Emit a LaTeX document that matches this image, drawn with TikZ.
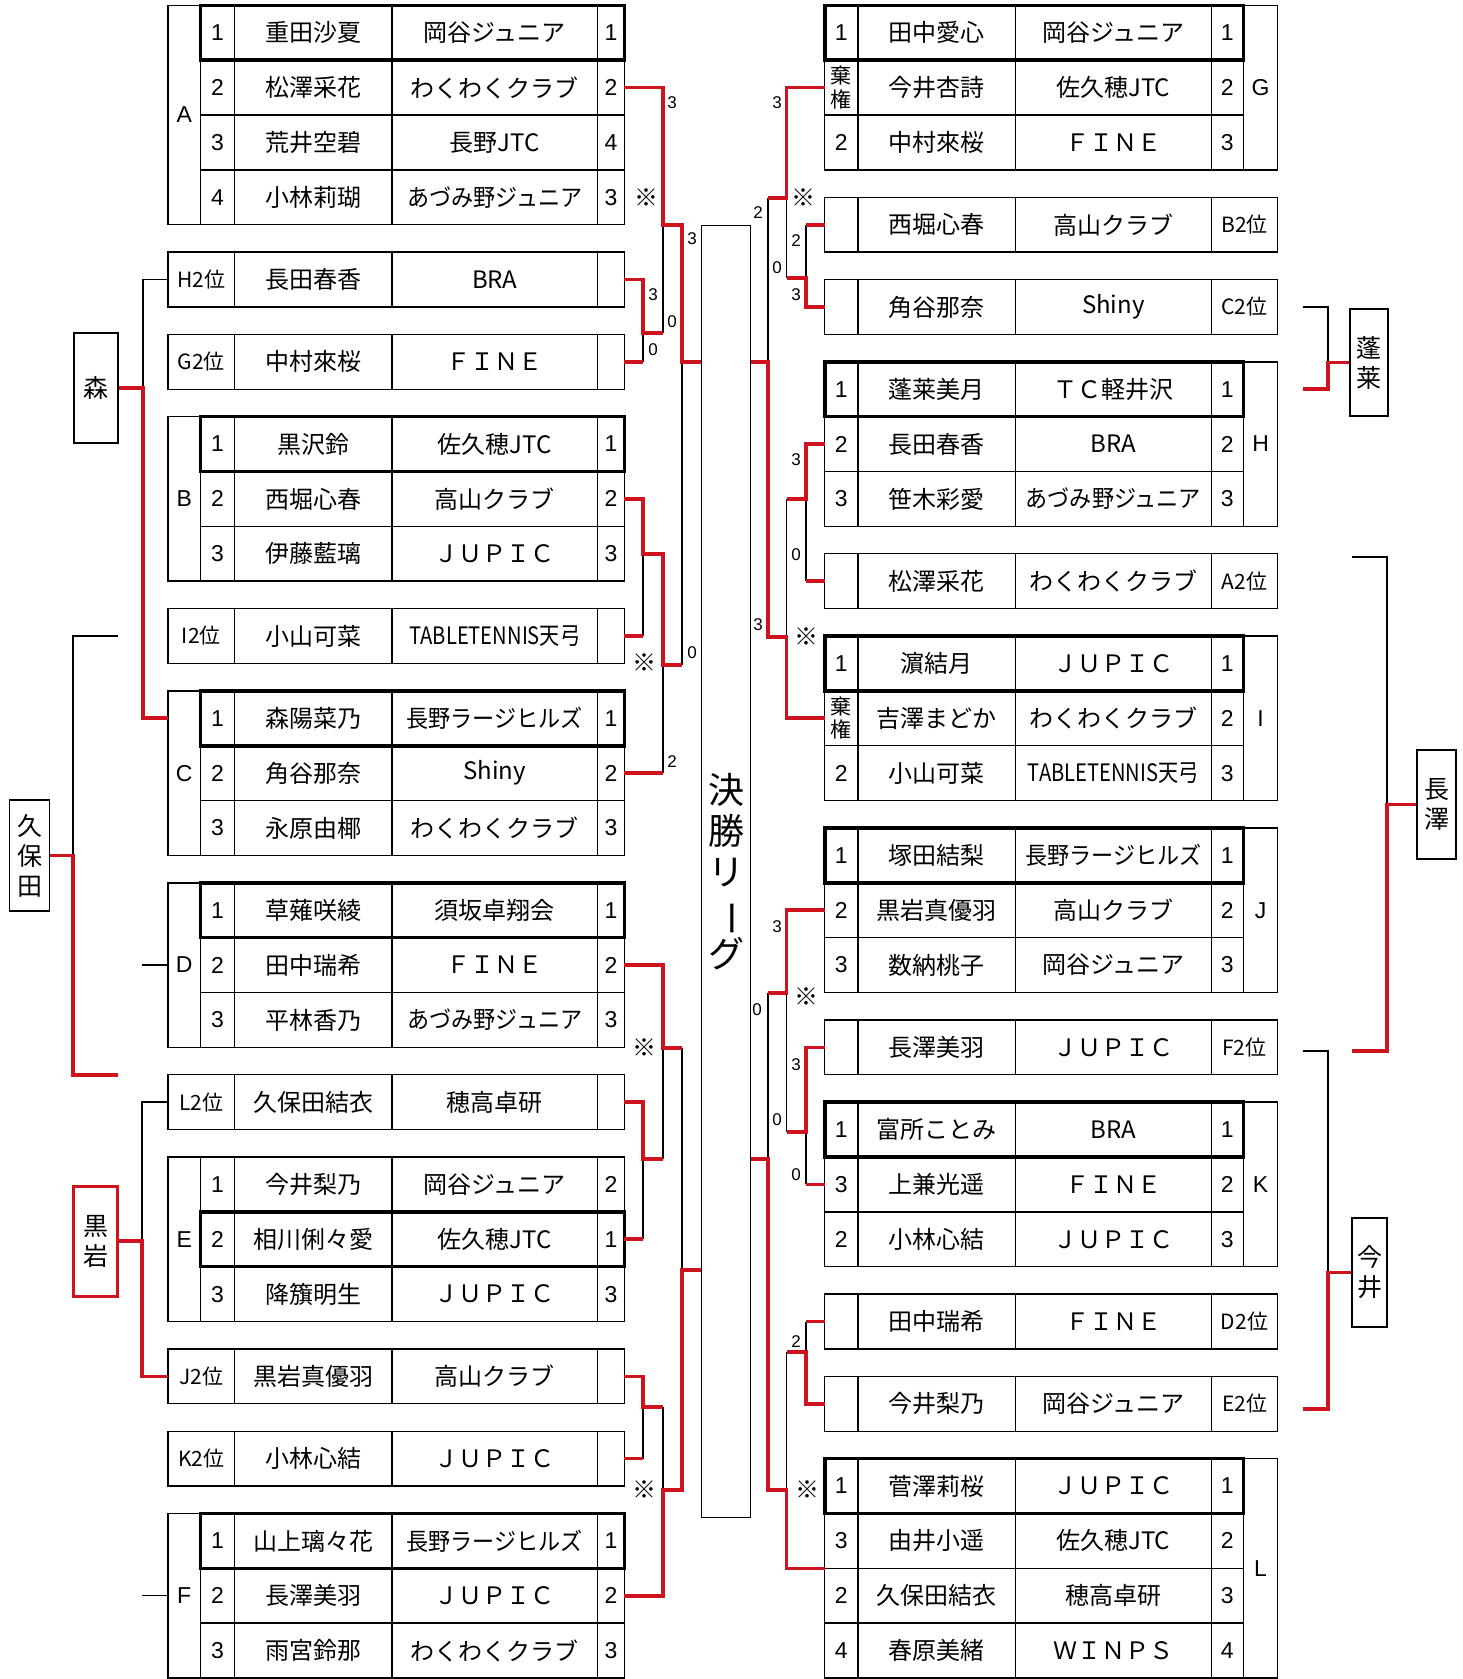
\documentclass[tikz,border=0pt]{standalone}
\usepackage{fontspec}
\usepackage{graphicx}
\setmainfont{Liberation Sans}
\newfontfamily\jp{Noto Sans CJK JP}
\definecolor{bracketred}{RGB}{206,18,30}
\newcommand\narrow[1]{\scalebox{0.92}[1]{#1}}
\newcommand\tenkyu{\scalebox{0.84}[1]{TABLETENNIS天弓}}
\newcommand\kiken{{\jp\fontsize{21}{22}\selectfont\shortstack{棄\\[1pt]権}}}

\tikzset{
  cell/.style={draw, line width=1.4pt, inner sep=0pt, outer sep=0pt, anchor=north west,
    minimum height=54.84pt, align=center},
  numcell/.style={cell, font=\fontsize{23}{25}\selectfont},
  namecell/.style={cell, font=\jp\fontsize{24}{26}\selectfont},
  poscell/.style={cell, font=\jp\fontsize{21}{23}\selectfont},
  toprow/.style={line width=3.6pt},
  win/.style={draw=bracketred, line width=3.6pt},
  lose/.style={draw=black, line width=1.4pt},
  score/.style={font=\fontsize{17}{17}\selectfont, inner sep=0pt},
  kome/.style={font=\jp\fontsize{24}{24}\selectfont, inner sep=0pt},
  sidebox/.style={draw, line width=1.4pt, inner sep=0pt, minimum width=44pt,
    minimum height=110pt, align=center, font=\jp\fontsize{25}{30}\selectfont},
}

% left table row: id, unit, no, name, club, rank
\newcommand\lrow[6]{%
  \node[numcell, minimum width=34.2pt] (#1n) at (200.3,{5.35+27.42*(#2)}) {#3};
  \node[namecell, minimum width=157.5pt] (#1m) at (234.5,{5.35+27.42*(#2)}) {#4};
  \node[namecell, minimum width=205.6pt] (#1c) at (392,{5.35+27.42*(#2)}) {#5};
  \node[numcell, minimum width=26.8pt] (#1r) at (597.6,{5.35+27.42*(#2)}) {#6};
}
% right table row: id, unit, no, name, club, rank
\newcommand\rrow[6]{%
  \node[numcell, minimum width=33.2pt] (#1n) at (824.7,{5.35+27.42*(#2)}) {#3};
  \node[namecell, minimum width=157.4pt] (#1m) at (857.9,{5.35+27.42*(#2)}) {#4};
  \node[namecell, minimum width=196pt] (#1c) at (1015.3,{5.35+27.42*(#2)}) {#5};
  \node[numcell, minimum width=32.1pt] (#1r) at (1211.3,{5.35+27.42*(#2)}) {#6};
}
% second places: id, unit, place, name, club
\newcommand\lsingle[5]{%
  \node[poscell, minimum width=66.4pt] (#1l) at (168.1,{5.35+27.42*(#2)}) {#3};
  \node[namecell, minimum width=157.5pt] (#1m) at (234.5,{5.35+27.42*(#2)}) {#4};
  \node[namecell, minimum width=205.6pt] (#1c) at (392,{5.35+27.42*(#2)}) {#5};
  \node[cell, minimum width=26.8pt] (#1r) at (597.6,{5.35+27.42*(#2)}) {};
}
% id, unit, name, club, place
\newcommand\rsingle[5]{%
  \node[cell, minimum width=33.2pt] (#1n) at (824.7,{5.35+27.42*(#2)}) {};
  \node[namecell, minimum width=157.4pt] (#1m) at (857.9,{5.35+27.42*(#2)}) {#3};
  \node[namecell, minimum width=196pt] (#1c) at (1015.3,{5.35+27.42*(#2)}) {#4};
  \node[poscell, minimum width=66.4pt] (#1l) at (1211.3,{5.35+27.42*(#2)}) {#5};
}

\begin{document}
\begin{tikzpicture}[x=1pt, y=-1pt]
\useasboundingbox (0,0) rectangle (1463,1679);

% left groups
\node[numcell, minimum width=32.2pt, minimum height=219.36pt] (Alab) at (168.1,5.35) {A};
\foreach \nr/\who/\team/\rk [count=\i] in {1/重田沙夏/岡谷ジュニア/1, 2/松澤采花/わくわくクラブ/2,
    3/荒井空碧/長野JTC/4, 4/小林莉瑚/\narrow{あづみ野ジュニア}/3}
  {\lrow{A\i}{2*\i-2}{\nr}{\who}{\team}{\rk}}
\lsingle{sH}{9}{H2位}{長田春香}{BRA}
\lsingle{sG}{12}{G2位}{中村來桜}{ＦＩＮＥ}
\node[numcell, minimum width=32.2pt, minimum height=164.52pt] (Blab) at (168.1,{5.35+27.42*15}) {B};
\foreach \nr/\who/\team/\rk [count=\i] in {1/黒沢鈴/佐久穂JTC/1, 2/西堀心春/高山クラブ/2, 3/伊藤藍璃/ＪＵＰＩＣ/3}
  {\lrow{B\i}{13+2*\i}{\nr}{\who}{\team}{\rk}}
\lsingle{sI}{22}{I2位}{小山可菜}{\tenkyu}
\node[numcell, minimum width=32.2pt, minimum height=164.52pt] (Clab) at (168.1,{5.35+27.42*25}) {C};
\foreach \nr/\who/\team/\rk [count=\i] in {1/森陽菜乃/\narrow{長野ラージヒルズ}/1, 2/角谷那奈/Shiny/2, 3/永原由椰/わくわくクラブ/3}
  {\lrow{C\i}{23+2*\i}{\nr}{\who}{\team}{\rk}}
\node[numcell, minimum width=32.2pt, minimum height=164.52pt] (Dlab) at (168.1,{5.35+27.42*32}) {D};
\foreach \nr/\who/\team/\rk [count=\i] in {1/草薙咲綾/須坂卓翔会/1, 2/田中瑞希/ＦＩＮＥ/2, 3/平林香乃/\narrow{あづみ野ジュニア}/3}
  {\lrow{D\i}{30+2*\i}{\nr}{\who}{\team}{\rk}}
\lsingle{sL}{39}{L2位}{久保田結衣}{穂高卓研}
\node[numcell, minimum width=32.2pt, minimum height=164.52pt] (Elab) at (168.1,{5.35+27.42*42}) {E};
\foreach \nr/\who/\team/\rk [count=\i] in {1/今井梨乃/岡谷ジュニア/2, 2/相川俐々愛/佐久穂JTC/1, 3/降籏明生/ＪＵＰＩＣ/3}
  {\lrow{E\i}{40+2*\i}{\nr}{\who}{\team}{\rk}}
\lsingle{sJ}{49}{J2位}{黒岩真優羽}{高山クラブ}
\lsingle{sK}{52}{K2位}{小林心結}{ＪＵＰＩＣ}
\node[numcell, minimum width=32.2pt, minimum height=164.52pt] (Flab) at (168.1,{5.35+27.42*55}) {F};
\foreach \nr/\who/\team/\rk [count=\i] in {1/山上璃々花/\narrow{長野ラージヒルズ}/1, 2/長澤美羽/ＪＵＰＩＣ/2, 3/雨宮鈴那/わくわくクラブ/3}
  {\lrow{F\i}{53+2*\i}{\nr}{\who}{\team}{\rk}}

% right groups
\foreach \nr/\who/\team/\rk [count=\i] in {1/田中愛心/岡谷ジュニア/1, \kiken/今井杏詩/佐久穂JTC/2, 2/中村來桜/ＦＩＮＥ/3}
  {\rrow{G\i}{2*\i-2}{\nr}{\who}{\team}{\rk}}
\node[numcell, minimum width=34.3pt, minimum height=164.52pt] (Glab) at (1243.4,5.35) {G};
\rsingle{tB}{7}{西堀心春}{高山クラブ}{B2位}
\rsingle{tC}{10}{角谷那奈}{Shiny}{C2位}
\foreach \nr/\who/\team/\rk [count=\i] in {1/蓬莱美月/ＴＣ軽井沢/1, 2/長田春香/BRA/2, 3/笹木彩愛/\narrow{あづみ野ジュニア}/3}
  {\rrow{H\i}{11+2*\i}{\nr}{\who}{\team}{\rk}}
\node[numcell, minimum width=34.3pt, minimum height=164.52pt] (Hlab) at (1243.4,{5.35+27.42*13}) {H};
\rsingle{tA}{20}{松澤采花}{わくわくクラブ}{A2位}
\foreach \nr/\who/\team/\rk [count=\i] in {1/濵結月/ＪＵＰＩＣ/1, \kiken/吉澤まどか/わくわくクラブ/2, 2/小山可菜/\tenkyu/3}
  {\rrow{I\i}{21+2*\i}{\nr}{\who}{\team}{\rk}}
\node[numcell, minimum width=34.3pt, minimum height=164.52pt] (Ilab) at (1243.4,{5.35+27.42*23}) {I};
\foreach \nr/\who/\team/\rk [count=\i] in {1/塚田結梨/\narrow{長野ラージヒルズ}/1, 2/黒岩真優羽/高山クラブ/2, 3/数納桃子/岡谷ジュニア/3}
  {\rrow{J\i}{28+2*\i}{\nr}{\who}{\team}{\rk}}
\node[numcell, minimum width=34.3pt, minimum height=164.52pt] (Jlab) at (1243.4,{5.35+27.42*30}) {J};
\rsingle{tF}{37}{長澤美羽}{ＪＵＰＩＣ}{F2位}
\foreach \nr/\who/\team/\rk [count=\i] in {1/富所ことみ/BRA/1, 3/上兼光遥/ＦＩＮＥ/2, 2/小林心結/ＪＵＰＩＣ/3}
  {\rrow{K\i}{38+2*\i}{\nr}{\who}{\team}{\rk}}
\node[numcell, minimum width=34.3pt, minimum height=164.52pt] (Klab) at (1243.4,{5.35+27.42*40}) {K};
\rsingle{tD}{47}{田中瑞希}{ＦＩＮＥ}{D2位}
\rsingle{tE}{50}{今井梨乃}{岡谷ジュニア}{E2位}
\foreach \nr/\who/\team/\rk [count=\i] in {1/菅澤莉桜/ＪＵＰＩＣ/1, 3/由井小遥/佐久穂JTC/2, 2/久保田結衣/穂高卓研/3, 4/春原美緒/ＷＩＮＰＳ/4}
  {\rrow{L\i}{51+2*\i}{\nr}{\who}{\team}{\rk}}
\node[numcell, minimum width=34.3pt, minimum height=219.36pt] (Llab) at (1243.4,{5.35+27.42*53}) {L};

% group winners
\foreach \g in {A1,B1,C1,D1,E2,F1,G1,H1,I1,J1,K1,L1}
  \draw[toprow] (\g n.north west) rectangle (\g r.south east);

% final league
\node[draw, line width=1.4pt, anchor=north west, minimum width=49pt, minimum height=1292pt,
  inner sep=0pt, align=center, font=\jp\fontsize{36}{41}\selectfont] (final) at (701,225)
  {決\\勝\\リ\\\rotatebox[origin=c]{-90}{ー}\\グ};

% side names
\node[sidebox] (mori) at (96,388) {森};
\node[sidebox, minimum width=40pt, minimum height=111pt] (kubota) at (29.5,855.5) {久\\保\\田};
\node[sidebox, draw=bracketred, line width=3pt] (kuroiwa) at (95.5,1241) {黒\\岩};
\node[sidebox, minimum width=38pt, minimum height=107pt] (horai) at (1369,362.5) {蓬\\莱};
\node[sidebox, minimum width=39pt, minimum height=109pt] (nagasawa) at (1436.5,804.5) {長\\澤};
\node[sidebox, minimum width=35pt, minimum height=109pt] (imai) at (1369.5,1272.5) {今\\井};

% junctions
\coordinate (jA) at (663,225);
\coordinate (jHG) at (643,333);
\coordinate (jTL) at (682,362);
\coordinate (jBI) at (643,554);
\coordinate (jBC) at (663,665);
\coordinate (jD) at (663,1048);
\coordinate (jLE) at (643,1159);
\coordinate (jBL) at (682,1270);
\coordinate (jJK) at (643,1407);
\coordinate (jF) at (663,1490);
\coordinate (kG) at (786.5,198);
\coordinate (kBC) at (806,278);
\coordinate (kTR) at (768,362);
\coordinate (kHA) at (806,499);
\coordinate (kI) at (786.5,637);
\coordinate (kJ) at (786.5,993);
\coordinate (kFK) at (806,1132);
\coordinate (kBR) at (768,1159);
\coordinate (kDE) at (806,1352);
\coordinate (kL) at (786.5,1490);
\coordinate (jM) at (143,388);
\coordinate (jK) at (73,855.5);
\coordinate (kuTop) at (118,636);
\coordinate (kuEnd) at (118,1075);
\coordinate (jKu) at (142,1241);
\coordinate (jH) at (1328,362.5);
\coordinate (hoC) at (1303,307);
\coordinate (hoH) at (1303,389);
\coordinate (jN) at (1387,804.5);
\coordinate (naA) at (1352,557);
\coordinate (naF) at (1352,1051);
\coordinate (jI) at (1328,1272.5);
\coordinate (imF) at (1303,1051);
\coordinate (imE) at (1303,1409);

% losing sides
\draw[lose] (jHG -| jA) -- (jA);
\draw[lose] (sGr.east -| jHG) -- (jHG);
\draw[lose] (jBC -| jTL) -- (jTL);
\draw[lose] (sIr.east -| jBI) -- (jBI);
\draw[lose] (C2r.east -| jA) -- (jBC);
\draw[lose] (jD -| jBL) -- (jBL);
\draw[lose] (jLE -| jD) -- (jD);
\draw[lose] (E2r.east -| jLE) -- (jLE);
\draw[lose] (jJK -| jF) -- (jF);
\draw[lose] (sKr.east -| jJK) -- (jJK);
\draw[lose] (kG -| kTR) -- (kTR);
\draw[lose] (kBC -| kG) -- (kG);
\draw[lose] (tBn.west -| kBC) -- (kBC);
\draw[lose] (kHA -| kI) -- (kI);
\draw[lose] (tAn.west -| kHA) -- (kHA);
\draw[lose] (kJ -| kBR) -- (kBR);
\draw[lose] (kFK -| kJ) -- (kJ);
\draw[lose] (K2n.west -| kFK) -- (kFK);
\draw[lose] (kDE -| kL) -- (kL);
\draw[lose] (tDn.west -| kDE) -- (kDE);
\draw[lose] (jM) |- (sHl.west);
\draw[lose] (jK) |- (kuTop);
\draw[lose] (jKu) |- (sLl.west);
\draw[lose] (Dlab.west) -- (Dlab.west -| jKu);
\draw[lose] (Flab.west) -- (Flab.west -| jKu);
\draw[lose] (hoC) -| (jH);
\draw[lose] (naA) -| (jN);
\draw[lose] (imF) -| (jI);

% winning sides
\draw[win] (A2r.east) -| (jA) -| (jTL) -- (jTL -| final.west);
\draw[win] (sHr.east) -| (jHG) -- (jHG -| jA);
\draw[win] (sGr.east) -- (sGr.east -| jHG);
\draw[win] (B2r.east) -| (jBI) -- (jBI -| jA) -- (jBC) -- (jBC -| jTL);
\draw[win] (sIr.east) -- (sIr.east -| jBI);
\draw[win] (C2r.east) -- (C2r.east -| jA);
\draw[win] (D2r.east) -| (jD) -- (jD -| jBL);
\draw[win] (sLr.east) -| (jLE) -- (jLE -| jD);
\draw[win] (E2r.east) -- (E2r.east -| jLE);
\draw[win] (F2r.east) -| (jF) -| (jBL) -- (jBL -| final.west);
\draw[win] (sJr.east) -| (jJK) -- (jJK -| jF);
\draw[win] (sKr.east) -- (sKr.east -| jJK);
\draw[win] (G2n.west) -| (kG) -- (kG -| kTR);
\draw[win] (tCn.west) -| (kBC) -- (kBC -| kG);
\draw[win] (tBn.west) -- (tBn.west -| kBC);
\draw[win] (I2n.west) -| (kI) -| (kTR) -- (kTR -| final.east);
\draw[win] (H2n.west) -| (kHA) -- (kHA -| kI);
\draw[win] (tAn.west) -- (tAn.west -| kHA);
\draw[win] (J2n.west) -| (kJ) -- (kJ -| kBR);
\draw[win] (tFn.west) -| (kFK) -- (kFK -| kJ);
\draw[win] (K2n.west) -- (K2n.west -| kFK);
\draw[win] (L2n.south west) -| (kL) -| (kBR) -- (kBR -| final.east);
\draw[win] (tEn.west) -| (kDE) -- (kDE -| kL);
\draw[win] (tDn.west) -- (tDn.west -| kDE);
\draw[win] (mori.east) -- (jM) |- (C1n.west -| Clab.west);
\draw[win] (kubota.east) -- (jK) |- (kuEnd);
\draw[win] (kuroiwa.east) -- (jKu) |- (sJl.west);
\draw[win] (hoH) -| (jH) -- (horai.west);
\draw[win] (naF) -| (jN) -- (nagasawa.west);
\draw[win] (imE) -| (jI) -- (imai.west);

% scores
\foreach \p/\t [count=\i] in {{672,103}/3, {692,239}/3, {653,295}/3, {672,322}/0, {653,350}/0,
    {692,653}/0, {672,762}/2, {777,103}/3, {758,213}/2, {796,241}/2, {777,268}/0, {796,295}/3,
    {796,460}/3, {796,555}/0, {758,625}/3, {777,927}/3, {757,1010}/0, {796,1065}/3,
    {777,1120}/0, {796,1175}/0, {796,1342}/2}
  \node[score] (sc\i) at (\p) {\t};
\foreach \p [count=\i] in {{646,198}, {644,663}, {644,1048}, {644,1490}, {803,198}, {806,637},
    {806,997}, {807,1490}}
  \node[kome] (km\i) at (\p) {※};
\end{tikzpicture}
\end{document}
